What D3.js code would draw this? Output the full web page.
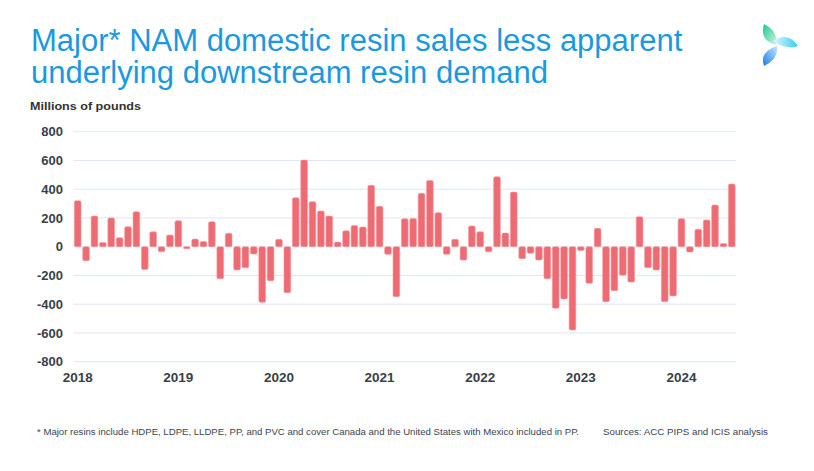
<!DOCTYPE html>
<html>
<head>
<meta charset="utf-8">
<script src="https://cdn.jsdelivr.net/npm/d3@7"></script>
<style>
  html, body { margin: 0; padding: 0; background: #ffffff; }
  svg { display: block; font-family: "Liberation Sans", Arial, sans-serif; }
</style>
</head>
<body>
<svg id="chart" width="814" height="471"></svg>
<script>
// ---- data (millions of pounds), monthly Jan 2018 – Jul 2024 ----
const years = ["2018", "2019", "2020", "2021", "2022", "2023", "2024"];
const values2018 = [320, -97, 213, 30, 200, 63, 139, 243, -158, 104, -35, 81];
const values2019 = [181, -15, 53, 37, 174, -223, 93, -162, -146, -51, -387, -237];
const values2020 = [51, -320, 341, 603, 313, 248, 213, 32, 111, 148, 137, 427];
const values2021 = [281, -53, -348, 195, 197, 371, 461, 237, -53, 51, -93, 144];
const values2022 = [104, -35, 487, 95, 380, -83, -46, -93, -223, -429, -364, -580];
const values2023 = [-26, -255, 128, -383, -306, -199, -246, 209, -146, -162, -383, -343];
const values2024 = [195, -37, 121, 186, 290, 23, 436];
const yTicks = [800, 600, 400, 200, 0, -200, -400, -600, -800];

const titleLines = ["Major* NAM domestic resin sales less apparent", "underlying downstream resin demand"];
const unitLabel = "Millions of pounds";
const footnote = "* Major resins include HDPE, LDPE, LLDPE, PP, and PVC and cover Canada and the United States with Mexico included in PP.";
const sourceNote = "Sources: ACC PIPS and ICIS analysis";

const series = [values2018, values2019, values2020, values2021, values2022, values2023, values2024];
const data = [];
series.forEach((vals, yi) => vals.forEach((v, m) => data.push({ year: years[yi], month: m, key: years[yi] + "-" + (m + 1), value: v })));

const svg = d3.select("#chart");

// scales
const x = d3.scaleBand().domain(data.map(d => d.key)).range([73.5, 736]).paddingInner(0.2).paddingOuter(0.1);
const y = d3.scaleLinear().domain([-800, 800]).range([361.7, 131.7]);

// gridlines
svg.append("g").selectAll("line").data(yTicks).join("line")
  .attr("x1", 73.5).attr("x2", 736)
  .attr("y1", d => y(d)).attr("y2", d => y(d))
  .attr("stroke", "#dde7f3").attr("stroke-width", 1);

// y axis labels (plain hyphen minus like the reference)
const yAxis = d3.axisLeft(y).tickValues(yTicks).tickSize(0).tickPadding(0).tickFormat(d => String(d));
const gy = svg.append("g").attr("transform", "translate(63,0)").call(yAxis);
gy.select(".domain").remove();
gy.selectAll("text").attr("font-size", 13).attr("font-weight", "bold").attr("fill", "#3a3f47")
  .attr("font-family", "'Liberation Sans', Arial, sans-serif");

// bars
svg.append("g").selectAll("rect").data(data).join("rect")
  .attr("x", d => x(d.key))
  .attr("width", x.bandwidth())
  .attr("y", d => y(Math.max(0, d.value)))
  .attr("height", d => Math.abs(y(d.value) - y(0)))
  .attr("rx", 1.5)
  .attr("fill", "#ee6b73")
  .attr("stroke", "#f39aa0").attr("stroke-width", 0.6);

// x axis labels (years at January)
const xAxis = d3.axisBottom(x).tickValues(years.map(yr => yr + "-1")).tickSize(0).tickPadding(0)
  .tickFormat(k => k.split("-")[0]);
const gx = svg.append("g").attr("transform", "translate(0,372)").call(xAxis);
gx.select(".domain").remove();
gx.selectAll("text").attr("font-size", 13.5).attr("font-weight", "bold").attr("fill", "#3a3f47")
  .attr("font-family", "'Liberation Sans', Arial, sans-serif");

// title
const title = svg.append("text").attr("fill", "#1b98e2").attr("font-size", 31);
title.append("tspan").attr("x", 31).attr("y", 51).text(titleLines[0]);
title.append("tspan").attr("x", 31).attr("y", 83).text(titleLines[1]);

svg.append("text").attr("x", 30).attr("y", 109.5).attr("font-size", 11).attr("font-weight", "bold")
  .attr("fill", "#333").attr("textLength", 111).attr("lengthAdjust", "spacingAndGlyphs").text(unitLabel);

// footnotes
svg.append("text").attr("x", 37).attr("y", 435).attr("font-size", 8.5).attr("fill", "#3a4250")
  .attr("textLength", 542).attr("lengthAdjust", "spacingAndGlyphs").text(footnote);
svg.append("text").attr("x", 603).attr("y", 435).attr("font-size", 8.5).attr("fill", "#3a4250")
  .attr("textLength", 165).attr("lengthAdjust", "spacingAndGlyphs").text(sourceNote);

// logo (three petals)
const defs = svg.append("defs");
const gradSpecs = [
  { id: "gGreen", x1: 0, y1: 0, x2: 1, y2: 1, c1: "#18c98a", c2: "#d6f5e4" },
  { id: "gCyan", x1: 1, y1: 0, x2: 0, y2: 0, c1: "#2fd0ee", c2: "#e0f7fc" },
  { id: "gBlue", x1: 0, y1: 1, x2: 1, y2: 0, c1: "#1a7fe6", c2: "#c6e6fb" }
];
gradSpecs.forEach(g => {
  const lg = defs.append("linearGradient").attr("id", g.id)
    .attr("x1", g.x1).attr("y1", g.y1).attr("x2", g.x2).attr("y2", g.y2);
  lg.append("stop").attr("offset", "0%").attr("stop-color", g.c1);
  lg.append("stop").attr("offset", "100%").attr("stop-color", g.c2);
});
const logo = svg.append("g").attr("transform", "translate(776,45)");
// green petal pointing up-left
logo.append("path").attr("d", "M0,0 Q-17,-5 -12,-21 Q3,-14 0,0 Z").attr("fill", "url(#gGreen)");
// cyan petal pointing right
logo.append("path").attr("d", "M-3,-4 Q12,-14 22,1 Q10,5 -3,-4 Z").attr("fill", "url(#gCyan)");
// blue petal pointing down-left
logo.append("path").attr("d", "M1,1 Q3,14 -12,21 Q-17,7 1,1 Z").attr("fill", "url(#gBlue)");
</script>
</body>
</html>
